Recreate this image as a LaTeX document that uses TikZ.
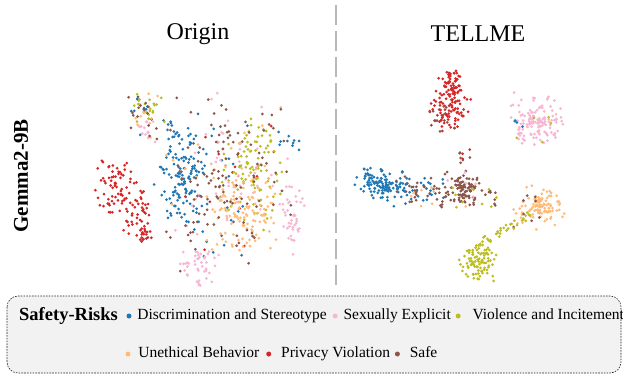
\documentclass[tikz,border=0pt]{standalone}
\usepackage{fontspec}
\setmainfont{Liberation Serif}
\usepackage{tikz}
\usetikzlibrary{positioning}

\definecolor{riskblue}{HTML}{1F77B4}
\definecolor{riskpink}{HTML}{F7B6D2}
\definecolor{riskolive}{HTML}{BCBD22}
\definecolor{riskorange}{HTML}{FFBB78}
\definecolor{riskred}{HTML}{D62728}
\definecolor{riskbrown}{HTML}{8C564B}

\tikzset{
    panel title/.style={font=\fontsize{24}{28}\selectfont, inner sep=0pt},
    model label/.style={font=\bfseries\fontsize{21}{24}\selectfont, rotate=90, inner sep=0pt},
    divider/.style={draw=gray!55, line width=1.8pt, dash pattern=on 20pt off 6pt},
    legend frame/.style={draw=black!85, line width=0.6pt, dash pattern=on 1.6pt off 1.2pt, fill=gray!10, rounded corners=11pt},
    key title/.style={font=\bfseries\fontsize{18.5}{22}\selectfont, inner sep=0pt},
    key/.style={circle, fill=#1, inner sep=0pt, minimum size=5pt},
    key text/.style={font=\fontsize{15.5}{18}\selectfont, inner sep=0pt, text height=10.5pt, text depth=3.5pt}
}

\begin{document}
\begin{tikzpicture}[x=1pt, y=-1pt]
    \useasboundingbox (0,0) rectangle (623,375);
    \pgfmathsetseed{42}

    % titles
    \node[panel title] (origin) at (198,34) {Origin};
    \node[panel title] (tellme) at (478,34) {TELLME};
    \node[model label] (model) at (21,176) {Gemma2-9B};

    % separator
    \coordinate (sep top) at (336,5);
    \coordinate (sep bottom) at (336,288);
    \draw[divider] (sep top) -- (sep bottom);

    % Origin embedding
    \foreach \col/\n/\cx/\cy/\rx/\ry in {
        riskred/70/116/188/22/32, riskred/40/137/213/16/28, riskred/18/145/236/9/9, riskred/12/225/170/70/90,
        riskblue/130/182/170/26/58, riskblue/35/205/195/55/90, riskblue/10/145/118/18/25, riskblue/10/290/140/16/16,
        riskolive/100/252/170/38/62, riskolive/25/148/108/18/18,
        riskorange/110/245/210/38/48, riskorange/30/225/170/78/90, riskorange/10/145/115/20/30,
        riskpink/45/200/266/22/22, riskpink/40/292/212/14/40, riskpink/45/230/180/75/95, riskpink/14/146/132/14/14,
        riskbrown/120/225/180/75/95, riskbrown/16/146/118/20/30}{
        \foreach \k in {1,...,\n}{
            \fill[\col] ({\cx+\rx*(0.6*rand+0.4*rand)},{\cy+\ry*(0.6*rand+0.4*rand)}) circle (1.5pt);
        }
    }

    % TELLME embedding
    \foreach \col/\n/\cx/\cy/\rx/\ry in {
        riskred/50/452/82/14/14, riskred/90/452/110/24/26, riskbrown/10/440/120/18/22,
        riskpink/130/538/120/30/28, riskblue/4/520/125/10/8, riskolive/5/540/120/30/25,
        riskblue/100/382/183/28/16, riskblue/30/400/190/32/18, riskblue/15/430/188/22/16,
        riskbrown/25/420/190/25/16, riskbrown/70/462/190/40/22, riskbrown/50/465/188/14/14,
        riskbrown/6/462/155/10/8, riskred/3/462/155/12/10,
        riskolive/10/470/195/35/20, riskorange/8/440/190/40/20, riskpink/5/470/190/50/30,
        riskorange/80/540/207/30/24, riskorange/30/540/207/10/10, riskbrown/8/530/210/25/20,
        riskolive/90/478/263/20/20}{
        \foreach \k in {1,...,\n}{
            \fill[\col] ({\cx+\rx*(rand+rand)/2},{\cy+\ry*(rand+rand)/2}) circle (1.5pt);
        }
    }
    % olive stream between the two lower clusters
    \foreach \k in {1,...,35}{
        \pgfmathsetmacro\t{rnd}
        \fill[riskolive] ({530-50*\t+4*rand},{215+28*\t+4*rand}) circle (1.5pt);
    }

    % legend
    \draw[legend frame] (7,296) rectangle (621,373);
    \node[key title, anchor=west] (risks) at (19,316) {Safety-Risks};
    \node[key=riskblue] (kblue) at (129,316) {};
    \node[key text, right=5.5pt of kblue] (tblue) {Discrimination and Stereotype};
    \node[key=riskpink, right=5.5pt of tblue] (kpink) {};
    \node[key text, right=5.5pt of kpink] (tpink) {Sexually Explicit};
    \node[key=riskolive, right=4.5pt of tpink] (kolive) {};
    \node[key text, right=11.5pt of kolive] (tolive) {Violence and Incitement};

    \node[key=riskorange] (korange) at (128,354) {};
    \node[key text, right=7.5pt of korange] (torange) {Unethical Behavior};
    \node[key=riskred, right=6.5pt of torange] (kred) {};
    \node[key text, right=9.5pt of kred] (tred) {Privacy Violation};
    \node[key=riskbrown, right=4.5pt of tred] (kbrown) {};
    \node[key text, right=9.5pt of kbrown] (tbrown) {Safe};
\end{tikzpicture}
\end{document}
